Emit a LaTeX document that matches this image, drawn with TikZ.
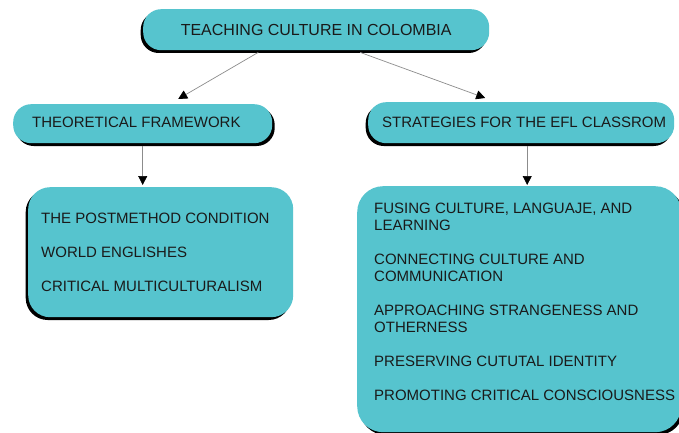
\documentclass[tikz,border=0pt]{standalone}
\usepackage{fontspec}
\setmainfont{Liberation Sans}
\usetikzlibrary{arrows.meta,shadows,calc}
\definecolor{tealbox}{RGB}{86,196,206}
\definecolor{ink}{RGB}{26,26,26}
\definecolor{connc}{RGB}{140,140,140}
\begin{document}
\begin{tikzpicture}[x=1pt,y=-1pt,
  box/.style={fill=tealbox, draw=none, rounded corners=#1, inner sep=0pt, anchor=north west},
  box/.default=18pt,
  shadowL/.style={general shadow={fill=black, shadow xshift=-2.5pt, shadow yshift=-2.8pt}},
  shadowR/.style={general shadow={fill=black, shadow xshift=2.5pt, shadow yshift=-2.8pt}},
  txt/.style={font=\fontsize{15}{17}\selectfont, text=ink, inner sep=0pt, align=left},
  arr/.style={draw=connc, line width=0.7pt, -{Triangle[width=9pt,length=9pt,color=black]}}
]
\useasboundingbox[fill=white] (0,0) rectangle (679,433);
\clip (0,0) rectangle (679,433);

% boxes
\node[box=18pt, shadowL, minimum width=346pt, minimum height=41pt,
      font=\fontsize{16}{18}\selectfont, text=ink] (title) at (143,9) {TEACHING CULTURE IN COLOMBIA};
\node[box=18pt, shadowR, minimum width=259pt, minimum height=39pt] (tf) at (13,104) {};
\node[txt, anchor=west] (tftext) at ([xshift=19pt, yshift=1.5pt]tf.west) {THEORETICAL FRAMEWORK};
\node[box=18pt, shadowL, minimum width=306pt, minimum height=41pt] (sf) at (368,102) {};
\node[txt, anchor=west] (sftext) at ([xshift=14pt, yshift=0.5pt]sf.west) {STRATEGIES FOR THE EFL CLASSROM};

\node[box=22pt, shadowL, minimum width=265pt, minimum height=130pt] (tl) at (28,187) {};
\node[txt, anchor=west] (tltext) at ([xshift=13pt]tl.west)
  {THE POSTMETHOD CONDITION\\[17pt]WORLD ENGLISHES\\[17pt]CRITICAL MULTICULTURALISM};

\node[box=26pt, shadowR, minimum width=324pt, minimum height=246pt] (sl) at (357,186) {};
\node[txt, anchor=north west] (sltext) at ([xshift=17pt, yshift=-16.5pt]sl.north west)
  {FUSING CULTURE, LANGUAJE, AND\\LEARNING\\[17pt]CONNECTING CULTURE AND\\COMMUNICATION\\[17pt]APPROACHING STRANGENESS AND\\OTHERNESS\\[17pt]PRESERVING CUTUTAL IDENTITY\\[17pt]PROMOTING CRITICAL CONSCIOUSNESS};

% connectors
\draw[arr] ([xshift=-58pt, yshift=-2pt]title.south) -- ([xshift=35.5pt, yshift=5pt]tf.north);
\draw[arr] ([xshift=44pt, yshift=-2pt]title.south) -- ([xshift=-36pt, yshift=4pt]sf.north);
\coordinate (ltop) at ($(tf.south)+(0,3)$);
\draw[arr] (ltop) -- ([yshift=2pt]ltop |- tl.north);
\coordinate (rtop) at ($(sf.south)+(6,3)$);
\draw[arr] (rtop) -- ([yshift=1pt]rtop |- sl.north);
\end{tikzpicture}
\end{document}
